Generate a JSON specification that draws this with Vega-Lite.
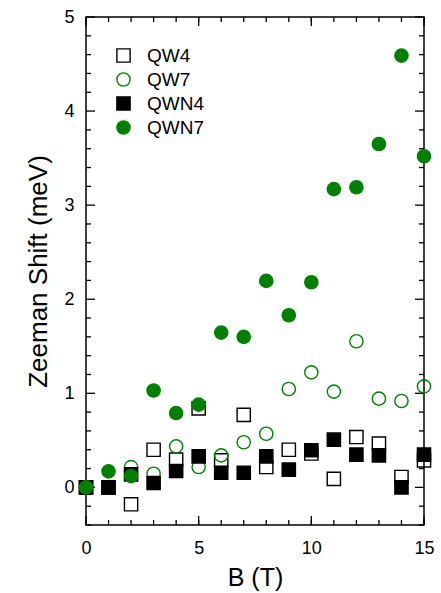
{
  "$schema": "https://vega.github.io/schema/vega-lite/v6.json",
  "width": 338,
  "height": 508,
  "autosize": {"type": "none"},
  "padding": {"left": 86, "top": 17, "right": 17, "bottom": 68},
  "background": "white",
  "config": {
    "view": {"stroke": "black", "strokeWidth": 1.5},
    "font": "Liberation Sans",
    "axis": {"labelColor": "black", "titleColor": "black", "titleFontWeight": "normal", "labelFlush": false, "grid": false, "domain": false, "ticks": false, "tickSize": 0}
  },
  "datasets": {
    "xminor": [{"b": 0}, {"b": 1}, {"b": 2}, {"b": 3}, {"b": 4}, {"b": 5}, {"b": 6}, {"b": 7}, {"b": 8}, {"b": 9}, {"b": 10}, {"b": 11}, {"b": 12}, {"b": 13}, {"b": 14}, {"b": 15}],
    "xmajor": [{"b": 0}, {"b": 5}, {"b": 10}, {"b": 15}],
    "yminor": [{"s": -0.4}, {"s": -0.2}, {"s": 0.2}, {"s": 0.4}, {"s": 0.6}, {"s": 0.8}, {"s": 1.2}, {"s": 1.4}, {"s": 1.6}, {"s": 1.8}, {"s": 2.2}, {"s": 2.4}, {"s": 2.6}, {"s": 2.8}, {"s": 3.2}, {"s": 3.4}, {"s": 3.6}, {"s": 3.8}, {"s": 4.2}, {"s": 4.4}, {"s": 4.6}, {"s": 4.8}],
    "ymajor": [{"s": 0}, {"s": 1}, {"s": 2}, {"s": 3}, {"s": 4}, {"s": 5}],
    "zeeman": [
      {"B": 0, "shift": 0.0, "series": "QW4"},
      {"B": 1, "shift": 0.0, "series": "QW4"},
      {"B": 2, "shift": -0.18, "series": "QW4"},
      {"B": 3, "shift": 0.40, "series": "QW4"},
      {"B": 4, "shift": 0.295, "series": "QW4"},
      {"B": 5, "shift": 0.84, "series": "QW4"},
      {"B": 6, "shift": 0.287, "series": "QW4"},
      {"B": 7, "shift": 0.77, "series": "QW4"},
      {"B": 8, "shift": 0.216, "series": "QW4"},
      {"B": 9, "shift": 0.40, "series": "QW4"},
      {"B": 10, "shift": 0.36, "series": "QW4"},
      {"B": 11, "shift": 0.09, "series": "QW4"},
      {"B": 12, "shift": 0.535, "series": "QW4"},
      {"B": 13, "shift": 0.465, "series": "QW4"},
      {"B": 14, "shift": 0.11, "series": "QW4"},
      {"B": 15, "shift": 0.287, "series": "QW4"},
      {"B": 0, "shift": 0.0, "series": "QW7"},
      {"B": 1, "shift": 0.0, "series": "QW7"},
      {"B": 2, "shift": 0.216, "series": "QW7"},
      {"B": 3, "shift": 0.145, "series": "QW7"},
      {"B": 4, "shift": 0.436, "series": "QW7"},
      {"B": 5, "shift": 0.216, "series": "QW7"},
      {"B": 6, "shift": 0.34, "series": "QW7"},
      {"B": 7, "shift": 0.48, "series": "QW7"},
      {"B": 8, "shift": 0.57, "series": "QW7"},
      {"B": 9, "shift": 1.046, "series": "QW7"},
      {"B": 10, "shift": 1.223, "series": "QW7"},
      {"B": 11, "shift": 1.018, "series": "QW7"},
      {"B": 12, "shift": 1.553, "series": "QW7"},
      {"B": 13, "shift": 0.943, "series": "QW7"},
      {"B": 14, "shift": 0.918, "series": "QW7"},
      {"B": 15, "shift": 1.074, "series": "QW7"},
      {"B": 0, "shift": 0.0, "series": "QWN4"},
      {"B": 1, "shift": 0.0, "series": "QWN4"},
      {"B": 2, "shift": 0.138, "series": "QWN4"},
      {"B": 3, "shift": 0.046, "series": "QWN4"},
      {"B": 4, "shift": 0.174, "series": "QWN4"},
      {"B": 5, "shift": 0.33, "series": "QWN4"},
      {"B": 6, "shift": 0.156, "series": "QWN4"},
      {"B": 7, "shift": 0.156, "series": "QWN4"},
      {"B": 8, "shift": 0.33, "series": "QWN4"},
      {"B": 9, "shift": 0.188, "series": "QWN4"},
      {"B": 10, "shift": 0.394, "series": "QWN4"},
      {"B": 11, "shift": 0.507, "series": "QWN4"},
      {"B": 12, "shift": 0.348, "series": "QWN4"},
      {"B": 13, "shift": 0.34, "series": "QWN4"},
      {"B": 14, "shift": 0.0, "series": "QWN4"},
      {"B": 15, "shift": 0.348, "series": "QWN4"},
      {"B": 0, "shift": 0.0, "series": "QWN7"},
      {"B": 1, "shift": 0.17, "series": "QWN7"},
      {"B": 2, "shift": 0.12, "series": "QWN7"},
      {"B": 3, "shift": 1.03, "series": "QWN7"},
      {"B": 4, "shift": 0.79, "series": "QWN7"},
      {"B": 5, "shift": 0.88, "series": "QWN7"},
      {"B": 6, "shift": 1.645, "series": "QWN7"},
      {"B": 7, "shift": 1.60, "series": "QWN7"},
      {"B": 8, "shift": 2.195, "series": "QWN7"},
      {"B": 9, "shift": 1.83, "series": "QWN7"},
      {"B": 10, "shift": 2.18, "series": "QWN7"},
      {"B": 11, "shift": 3.17, "series": "QWN7"},
      {"B": 12, "shift": 3.19, "series": "QWN7"},
      {"B": 13, "shift": 3.65, "series": "QWN7"},
      {"B": 14, "shift": 4.59, "series": "QWN7"},
      {"B": 15, "shift": 3.52, "series": "QWN7"}
    ]
  },
  "layer": [
    {
      "data": {"name": "xminor"},
      "mark": {"type": "tick", "orient": "vertical", "size": 5, "thickness": 1.3, "color": "black", "opacity": 1, "yOffset": -2.5},
      "encoding": {"x": {"field": "b", "type": "quantitative", "title": "B (T)"}, "y": {"datum": -0.4, "type": "quantitative", "title": "Zeeman Shift (meV)"}}
    },
    {
      "data": {"name": "xminor"},
      "mark": {"type": "tick", "orient": "vertical", "size": 5, "thickness": 1.3, "color": "black", "opacity": 1, "yOffset": 2.5},
      "encoding": {"x": {"field": "b", "type": "quantitative", "title": "B (T)"}, "y": {"datum": 5, "type": "quantitative", "title": "Zeeman Shift (meV)"}}
    },
    {
      "data": {"name": "xmajor"},
      "mark": {"type": "tick", "orient": "vertical", "size": 9, "thickness": 1.3, "color": "black", "opacity": 1, "yOffset": -4.5},
      "encoding": {"x": {"field": "b", "type": "quantitative", "title": "B (T)"}, "y": {"datum": -0.4, "type": "quantitative", "title": "Zeeman Shift (meV)"}}
    },
    {
      "data": {"name": "xmajor"},
      "mark": {"type": "tick", "orient": "vertical", "size": 9, "thickness": 1.3, "color": "black", "opacity": 1, "yOffset": 4.5},
      "encoding": {"x": {"field": "b", "type": "quantitative", "title": "B (T)"}, "y": {"datum": 5, "type": "quantitative", "title": "Zeeman Shift (meV)"}}
    },
    {
      "data": {"name": "yminor"},
      "mark": {"type": "tick", "orient": "horizontal", "size": 5, "thickness": 1.3, "color": "black", "opacity": 1, "xOffset": 2.5},
      "encoding": {"y": {"field": "s", "type": "quantitative", "title": "Zeeman Shift (meV)"}, "x": {"datum": 0, "type": "quantitative", "title": "B (T)"}}
    },
    {
      "data": {"name": "yminor"},
      "mark": {"type": "tick", "orient": "horizontal", "size": 5, "thickness": 1.3, "color": "black", "opacity": 1, "xOffset": -2.5},
      "encoding": {"y": {"field": "s", "type": "quantitative", "title": "Zeeman Shift (meV)"}, "x": {"datum": 15, "type": "quantitative", "title": "B (T)"}}
    },
    {
      "data": {"name": "ymajor"},
      "mark": {"type": "tick", "orient": "horizontal", "size": 9, "thickness": 1.3, "color": "black", "opacity": 1, "xOffset": 4.5},
      "encoding": {"y": {"field": "s", "type": "quantitative", "title": "Zeeman Shift (meV)"}, "x": {"datum": 0, "type": "quantitative", "title": "B (T)"}}
    },
    {
      "data": {"name": "ymajor"},
      "mark": {"type": "tick", "orient": "horizontal", "size": 9, "thickness": 1.3, "color": "black", "opacity": 1, "xOffset": -4.5},
      "encoding": {"y": {"field": "s", "type": "quantitative", "title": "Zeeman Shift (meV)"}, "x": {"datum": 15, "type": "quantitative", "title": "B (T)"}}
    },
    {
      "data": {"name": "zeeman"},
      "mark": {"type": "point", "strokeWidth": 1.4, "opacity": 1, "size": 175},
      "encoding": {
        "x": {"field": "B", "type": "quantitative", "title": "B (T)", "scale": {"domain": [0, 15], "nice": false, "zero": false},
              "axis": {"orient": "bottom", "values": [0,5,10,15], "format": "d", "labelPadding": 14, "labelFontSize": 18, "labelFont": "Liberation Sans", "title": "B (T)", "titleFont": "Liberation Sans", "titleFontSize": 25, "titlePadding": 8}},
        "y": {"field": "shift", "type": "quantitative", "title": "Zeeman Shift (meV)", "scale": {"domain": [-0.4, 5], "nice": false, "zero": false},
              "axis": {"orient": "left", "values": [0,1,2,3,4,5], "format": "d", "labelPadding": 12, "labelFontSize": 18, "labelFont": "Liberation Sans", "title": "Zeeman Shift (meV)", "titleFont": "Liberation Sans", "titleFontSize": 26, "titlePadding": 12}},
        "shape": {"field": "series", "type": "nominal",
                  "scale": {"domain": ["QW4", "QW7", "QWN4", "QWN7"], "range": ["square", "circle", "square", "circle"]},
                  "legend": {"title": null, "orient": "none", "legendX": 28, "legendY": 29, "labelFontSize": 19, "labelFont": "Liberation Sans", "labelColor": "black", "symbolSize": 175, "symbolStrokeWidth": 1.4, "rowPadding": 4, "labelOffset": 14, "padding": 0}},
        "stroke": {"field": "series", "type": "nominal",
                   "scale": {"domain": ["QW4", "QW7", "QWN4", "QWN7"], "range": ["black", "#008000", "black", "#008000"]}},
        "fill": {"field": "series", "type": "nominal",
                 "scale": {"domain": ["QW4", "QW7", "QWN4", "QWN7"], "range": ["transparent", "transparent", "black", "#008000"]}}
      }
    }
  ]
}
